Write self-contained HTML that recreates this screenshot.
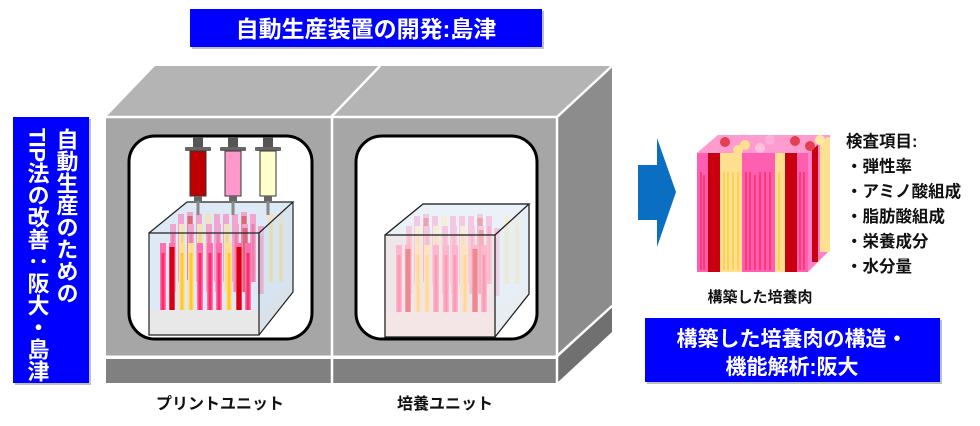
<!DOCTYPE html>
<html><head><meta charset="utf-8"><style>
html,body{margin:0;padding:0;background:#fff;width:980px;height:426px;overflow:hidden}
svg{display:block}
text{font-family:"Liberation Sans","Noto Sans CJK JP",sans-serif;font-weight:bold}
</style></head><body>
<svg width="980" height="426" viewBox="0 0 980 426" xmlns="http://www.w3.org/2000/svg">
<defs>
<g id="tubeP"><rect x="0" y="0" width="6" height="68" fill="#ff6fb0"/><rect x="1.5" y="10" width="3" height="58" fill="#ff2a6a"/></g>
<g id="tubeR"><rect x="0" y="0" width="6" height="68" fill="#ff6fb0"/><rect x="0.5" y="4" width="5" height="64" fill="#d80010"/></g>
<g id="tubeY"><rect x="0" y="0" width="6" height="68" fill="#ffe090"/><rect x="1.5" y="10" width="3" height="58" fill="#ffc830"/></g>
<g id="cube">
 <polygon points="149,233 187,202 293,202 293,292 259,335 149,335" fill="#dde9f5"/>
 <g opacity="0.55">
  <use href="#tubeP" x="178" y="214"/><use href="#tubeR" x="187" y="212"/><use href="#tubeP" x="196" y="214"/><use href="#tubeY" x="205" y="214"/><use href="#tubeP" x="214" y="214"/><use href="#tubeP" x="223" y="214"/><use href="#tubeP" x="232" y="214"/><use href="#tubeR" x="241" y="212"/><use href="#tubeP" x="250" y="214"/><use href="#tubeY" x="268" y="214"/><use href="#tubeY" x="278" y="214"/>
  <use href="#tubeP" x="170" y="224"/><use href="#tubeY" x="179" y="224"/><use href="#tubeP" x="188" y="224"/><use href="#tubeY" x="197" y="224"/><use href="#tubeP" x="206" y="224"/><use href="#tubeP" x="215" y="224"/><use href="#tubeY" x="224" y="224"/><use href="#tubeP" x="233" y="224"/><use href="#tubeR" x="242" y="224"/><use href="#tubeP" x="258" y="226"/>
 </g>
 <polygon points="149,310 259,310 293,280 293,292 259,335 149,335" fill="#e4e4e4"/>
 <use href="#tubeP" x="160" y="243"/><use href="#tubeR" x="169" y="243"/><use href="#tubeY" x="179" y="243"/><use href="#tubeY" x="188" y="243"/><use href="#tubeP" x="197" y="243"/><use href="#tubeP" x="207" y="243"/><use href="#tubeP" x="216" y="243"/><use href="#tubeY" x="226" y="243"/><use href="#tubeR" x="236" y="243"/><use href="#tubeP" x="245" y="243"/>
 <rect x="149" y="310" width="110" height="25" fill="#e8e8e8"/>
 <polygon points="259,233 293,202 293,292 259,335" fill="#cfe0ee" opacity="0.5"/>
 <g fill="none" stroke="#222" stroke-width="1.2">
  <polygon points="149,233 259,233 259,335 149,335"/>
  <polyline points="149,233 187,202 293,202 259,233"/>
  <polyline points="293,202 293,292 259,335"/>
 </g>
</g>
</defs>

<!-- top banner -->
<rect x="192" y="11" width="352" height="38" fill="#000" opacity="0.25"/>
<rect x="190" y="9" width="352" height="38" fill="#0000ff"/>
<text x="366" y="37" font-size="23" fill="#fff" text-anchor="middle">自動生産装置の開発:島津</text>

<!-- left vertical banner -->
<rect x="15" y="119" width="76" height="266" fill="#000" opacity="0.25"/>
<rect x="13" y="117" width="76" height="266" fill="#0000ff"/>
<text font-size="22" fill="#fff" style="writing-mode:vertical-rl" x="66" y="128">自動生産のための</text>
<text font-size="22" fill="#fff" style="writing-mode:vertical-rl" x="37" y="128">TIP法の改善：阪大・島津</text>

<!-- machine -->
<polygon points="106,117 155,66 612,66 557,117" fill="#b4b4b4"/>
<line x1="331" y1="117" x2="380" y2="66" stroke="#fff" stroke-width="2.5"/>
<polygon points="557,117 612,66 612,305 557,355" fill="#8c8c8c"/>
<polygon points="557,358 612,307 612,332 557,383" fill="#707070"/>
<line x1="557" y1="356" x2="612" y2="306" stroke="#fff" stroke-width="2.5"/>
<rect x="106" y="117" width="451" height="239" fill="#a6a6a6"/>
<rect x="106" y="359" width="451" height="24" fill="#808080"/>
<line x1="106" y1="117" x2="557" y2="117" stroke="#fff" stroke-width="2.5"/>
<line x1="557" y1="117" x2="612" y2="66" stroke="#fff" stroke-width="2.5"/>
<line x1="557" y1="117" x2="557" y2="383" stroke="#fff" stroke-width="2.5"/>
<line x1="106" y1="357" x2="557" y2="357" stroke="#fff" stroke-width="3"/>
<line x1="332" y1="117" x2="332" y2="383" stroke="#fff" stroke-width="2.5"/>

<!-- windows -->
<rect x="129" y="136" width="183" height="203" rx="26" fill="#fff" stroke="#000" stroke-width="3"/>
<rect x="356" y="136" width="181" height="203" rx="26" fill="#fff" stroke="#000" stroke-width="3"/>

<use href="#cube"/>
<g transform="translate(236,2)"><g opacity="0.6"><use href="#cube"/></g>
<rect x="149" y="233" width="110" height="102" fill="#f8d0d0" opacity="0.35"/>
<g fill="none" stroke="#222" stroke-width="1.2">
  <polygon points="149,233 259,233 259,335 149,335"/>
  <polyline points="149,233 187,202 293,202 259,233"/>
  <polyline points="293,202 293,292 259,335"/>
</g></g>

<!-- syringes -->
<g>
 <g transform="translate(198,0)"><rect x="-5" y="137" width="10" height="11" fill="#555"/><rect x="-13" y="147" width="26" height="4" rx="1" fill="#666"/><rect x="-8" y="151" width="16" height="45" fill="#c00000" stroke="#333"/><rect x="-4" y="196" width="8" height="5" fill="#666"/><rect x="-1.5" y="201" width="3" height="14" fill="#888"/></g>
 <g transform="translate(233,0)"><rect x="-5" y="137" width="10" height="11" fill="#555"/><rect x="-13" y="147" width="26" height="4" rx="1" fill="#666"/><rect x="-8" y="151" width="16" height="45" fill="#ff99cc" stroke="#333"/><rect x="-4" y="196" width="8" height="5" fill="#666"/><rect x="-1.5" y="201" width="3" height="14" fill="#888"/></g>
 <g transform="translate(268,0)"><rect x="-5" y="137" width="10" height="11" fill="#555"/><rect x="-13" y="147" width="26" height="4" rx="1" fill="#666"/><rect x="-8" y="151" width="16" height="45" fill="#ffffcc" stroke="#333"/><rect x="-4" y="196" width="8" height="5" fill="#666"/><rect x="-1.5" y="201" width="3" height="14" fill="#888"/></g>
</g>

<text x="220" y="409" font-size="16" fill="#111" text-anchor="middle">プリントユニット</text>
<text x="445" y="409" font-size="16" fill="#111" text-anchor="middle">培養ユニット</text>

<!-- arrow -->
<polygon points="638,165 657,165 657,138 676,192 657,247 657,220 638,220" fill="#0a6fc2"/>

<!-- meat cube -->
<g>
 <polygon points="697,153 718,135 830,135 830,250 808,272" fill="#ff80c8"/>
 <rect x="812" y="140" width="6" height="122" fill="#c80010"/>
 <rect x="820" y="137" width="10" height="115" fill="#ffe090"/>
 <polygon points="697,153 718,135 830,135 808,153" fill="#ff9ccf"/>
 <circle cx="725" cy="142" r="5" fill="#e04050"/><circle cx="745" cy="145" r="5" fill="#ffe090"/><circle cx="770" cy="140" r="5" fill="#ffb0d8"/><circle cx="795" cy="141" r="5" fill="#e04050"/><circle cx="738" cy="150" r="5" fill="#ffe090"/><circle cx="810" cy="146" r="5" fill="#e04050"/><circle cx="760" cy="148" r="5" fill="#ffc0e0"/><circle cx="820" cy="140" r="5" fill="#ffe8a0"/>
 <rect x="697" y="153" width="11" height="119" fill="#ff5fb0"/>
 <rect x="708" y="153" width="12" height="119" fill="#c80010"/>
 <rect x="720" y="153" width="22" height="119" fill="#ffe090"/>
 <rect x="742" y="153" width="33" height="119" fill="#ff5fb0"/>
 <rect x="775" y="153" width="10" height="119" fill="#ffe090"/>
 <rect x="785" y="153" width="12" height="119" fill="#c80010"/>
 <rect x="797" y="153" width="11" height="119" fill="#ff5fb0"/>
 <g stroke-width="1"><path d="M701 172V270M704 175V270M746 172V270M750 172V270M755 175V270M760 172V270M765 172V270M770 172V270M800 172V270M804 172V270" stroke="#ff1040"/>
 <path d="M724 172V270M728 172V270M733 172V270M738 172V270M779 172V270" stroke="#ffc020"/></g>
</g>
<text x="760" y="302" font-size="15" fill="#111" text-anchor="middle">構築した培養肉</text>
<g font-size="16.5" fill="#111">
<text x="846" y="147">検査項目:</text>
<text x="846" y="172">・弾性率</text>
<text x="846" y="197">・アミノ酸組成</text>
<text x="846" y="222">・脂肪酸組成</text>
<text x="846" y="247">・栄養成分</text>
<text x="846" y="272">・水分量</text>
</g>

<!-- bottom right banner -->
<rect x="647" y="320" width="295" height="64" fill="#000" opacity="0.25"/>
<rect x="645" y="318" width="295" height="64" fill="#0000ff"/>
<text x="792" y="346" font-size="21" fill="#fff" text-anchor="middle">構築した培養肉の構造・</text>
<text x="792" y="374" font-size="21" fill="#fff" text-anchor="middle">機能解析:阪大</text>
</svg>
</body></html>
